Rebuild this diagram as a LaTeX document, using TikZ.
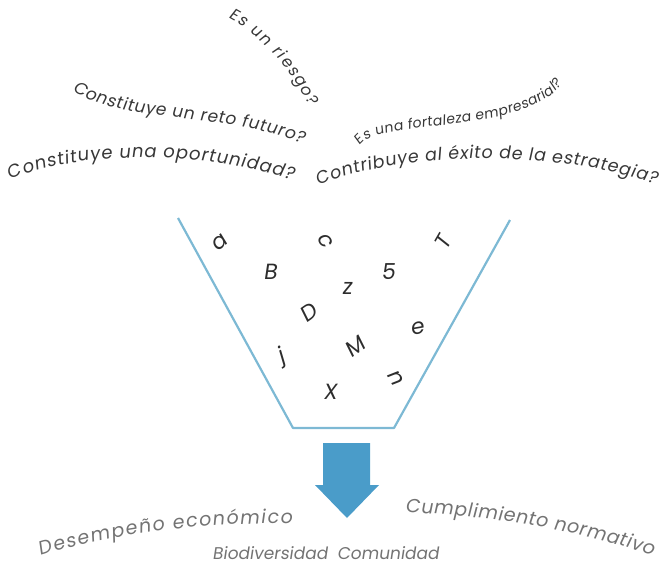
\documentclass[tikz,border=0pt]{standalone}
\usepackage{fontspec}
\newfontfamily\gfont[FakeSlant=0.15]{Poppins}
\usetikzlibrary{decorations.text}
\definecolor{funnelblue}{RGB}{125,185,212}
\definecolor{arrowblue}{RGB}{74,156,201}
\definecolor{qgray}{RGB}{55,55,55}
\definecolor{bgray}{RGB}{115,115,115}
\definecolor{lettergray}{RGB}{45,45,45}
\newcommand{\qf}[1]{\gfont\fontsize{#1}{#1}\selectfont}
\tikzset{
  funnelline/.style={draw=funnelblue, line width=2.2pt, line join=round},
  bigarrow/.style={fill=arrowblue, draw=none},
  letter/.style={font=\gfont\fontsize{22}{22}\selectfont, text=lettergray, inner sep=0pt},
  flatlabel/.style={font=\gfont\fontsize{17}{17}\selectfont, text=bgray, inner sep=0pt},
  curvetext/.style={decorate, decoration={text along path, text align={fit to path}, text={#1}}}
}
\begin{document}
\begin{tikzpicture}[x=1pt,y=-1pt]
\useasboundingbox (0,0) rectangle (665,568);
% questions
\path[curvetext={|\qf{16}\color{qgray}|Es un riesgo?}]
  (228,18) .. controls (262,36) and (290,68) .. (310,106);
\path[curvetext={|\qf{17}\color{qgray}|Constituye un reto futuro?}]
  (72,90) .. controls (120,124) and (230,112) .. (302,144);
\path[curvetext={|\qf{14}\color{qgray}|Es una fortaleza empresarial?}]
  (360,146) .. controls (376,118) and (522,136) .. (562,84);
\path[curvetext={|\qf{18}\color{qgray}|Constituye una oportunidad?}]
  (10,180) .. controls (80,150) and (200,150) .. (292,180);
\path[curvetext={|\qf{17.5}\color{qgray}|Contribuye al éxito de la estrategia?}]
  (318,186) .. controls (400,150) and (560,150) .. (655,184);
% funnel
\coordinate (ftl) at (178,218);
\coordinate (fbl) at (293,428);
\coordinate (fbr) at (394,428);
\coordinate (ftr) at (510,220);
\draw[funnelline] (ftl) -- (fbl) -- (fbr) -- (ftr);
% letters
\node[letter, rotate=40]  (la) at (219,243) {a};
\node[letter, rotate=-60] (lc) at (325,240) {c};
\node[letter]             (lB) at (270,272) {B};
\node[letter, rotate=35]  (lD) at (308,313) {D};
\node[letter]             (lz) at (347,288) {z};
\node[letter]             (l5) at (388,272) {5};
\node[letter, rotate=60]  (lT) at (443,243) {T};
\node[letter, rotate=10]  (le) at (417,328) {e};
\node[letter, rotate=35]  (lM) at (355,347) {M};
\node[letter, rotate=25]  (lj) at (282,357) {j};
\node[letter, rotate=-60] (ln) at (395,378) {n};
\node[letter]             (lX) at (330,392) {X};
% arrow
\coordinate (a1) at (323,443);
\coordinate (a2) at (370,443);
\coordinate (a3) at (370,485);
\coordinate (a4) at (379,485);
\coordinate (a5) at (347,518);
\coordinate (a6) at (315,485);
\coordinate (a7) at (323,485);
\fill[bigarrow] (a1) -- (a2) -- (a3) -- (a4) -- (a5) -- (a6) -- (a7) -- cycle;
% outcomes
\path[curvetext={|\qf{19}\color{bgray}|Desempeño económico}]
  (40,556) .. controls (110,534) and (200,522) .. (292,524);
\path[curvetext={|\qf{19}\color{bgray}|Cumplimiento normativo}]
  (405,513) .. controls (470,514) and (570,526) .. (652,556);
\node[flatlabel] (bio) at (270,553) {Biodiversidad};
\node[flatlabel] (com) at (388,553) {Comunidad};
\end{tikzpicture}
\end{document}
